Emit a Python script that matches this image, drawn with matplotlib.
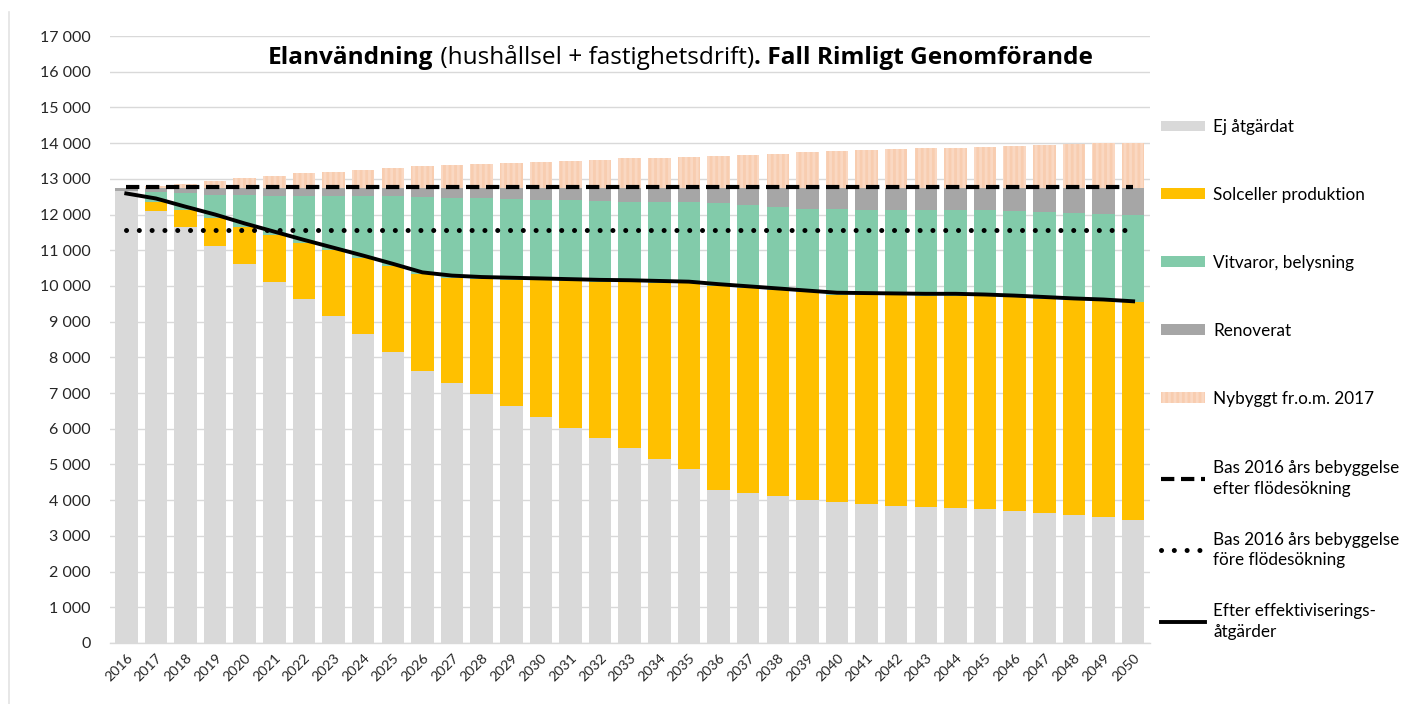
import matplotlib
matplotlib.use("Agg")
import matplotlib.pyplot as plt
import numpy as np
from matplotlib.patches import Patch
from matplotlib.lines import Line2D
from matplotlib.ticker import FuncFormatter, MultipleLocator

plt.rcParams['font.family'] = ['Lato', 'DejaVu Sans']
plt.rcParams['hatch.linewidth'] = 2.0

years = list(range(2016, 2051))

ej_atgardat = [12650, 12110, 11640, 11120, 10610, 10110, 9630, 9150, 8650, 8150,
               7630, 7290, 6970, 6640, 6320, 6030, 5740, 5450, 5140, 4860,
               4290, 4190, 4120, 4000, 3940, 3900, 3850, 3820, 3790, 3750,
               3700, 3630, 3580, 3520, 3450]
solceller = [0, 230, 490, 780, 1030, 1320, 1570, 1850, 2140, 2420,
             2700, 2940, 3230, 3540, 3840, 4110, 4380, 4660, 4950, 5210,
             5710, 5750, 5760, 5820, 5820, 5850, 5890, 5910, 5940, 5960,
             5980, 6010, 6020, 6050, 6090]
vitvaror = [0, 300, 460, 650, 910, 1100, 1330, 1520, 1730, 1940,
            2170, 2230, 2260, 2260, 2250, 2260, 2250, 2250, 2270, 2290,
            2320, 2330, 2340, 2340, 2390, 2380, 2390, 2400, 2400, 2410,
            2420, 2440, 2440, 2450, 2440]
renoverat = [80, 90, 140, 180, 180, 200, 200, 210, 210, 220,
             230, 270, 270, 290, 320, 330, 360, 370, 370, 370,
             410, 460, 510, 570, 580, 600, 600, 600, 600, 610,
             630, 650, 690, 710, 750]
nybyggt = [0, 60, 120, 210, 280, 350, 420, 470, 520, 570,
           620, 650, 680, 720, 750, 780, 810, 840, 860, 890,
           920, 940, 970, 1010, 1060, 1080, 1110, 1130, 1140, 1170,
           1200, 1220, 1240, 1260, 1270]
efter_effektivisering = [12590, 12450, 12220, 12000, 11750, 11520, 11290, 11070, 10850, 10620,
                         10380, 10290, 10250, 10230, 10210, 10190, 10170, 10160, 10140, 10120,
                         10050, 9990, 9930, 9870, 9810, 9800, 9790, 9780, 9780, 9760,
                         9730, 9690, 9650, 9620, 9570]
bas_efter = [12760] * len(years)
bas_fore = [11570] * len(years)

series_labels = ["Ej åtgärdat", "Solceller produktion", "Vitvaror, belysning",
                 "Renoverat", "Nybyggt fr.o.m. 2017"]
line_labels = ["Bas 2016 års bebyggelse\nefter flödesökning",
               "Bas 2016 års bebyggelse\nföre flödesökning",
               "Efter effektiviserings-\nåtgärder"]
title_parts = [("Elanvändning", "bold"), (" (hushållsel + fastighetsdrift)", "normal"),
               (". Fall Rimligt Genomförande", "bold")]

c_ej = "#D9D9D9"
c_sol = "#FFC000"
c_vit = "#82CBAA"
c_ren = "#A6A6A6"
c_ny = "#F8CDB0"
c_ny_hatch = "#FAD8C2"

W, H = 1406, 704
fig = plt.figure(figsize=(W / 100, H / 100), dpi=100)
ax = fig.add_axes([110 / W, (H - 643) / H, (1150 - 110) / W, (643 - 36) / H])

# thin frame line at the left edge of the picture
fig.add_artist(Line2D([9 / W, 9 / W], [0, 1 - 12 / H], transform=fig.transFigure,
                      color="#E3E3E3", lw=1.2))

x = np.arange(len(years))
bw = 0.76
b = np.zeros(len(years))
for vals, col in [(ej_atgardat, c_ej), (solceller, c_sol), (vitvaror, c_vit), (renoverat, c_ren)]:
    ax.bar(x, vals, bw, bottom=b, color=col, linewidth=0, zorder=2)
    b = b + np.array(vals)
ax.bar(x, nybyggt, bw, bottom=b, color=c_ny, edgecolor=c_ny_hatch, linewidth=0,
       hatch="|||", zorder=2)

ax.plot(x, bas_efter, color="black", lw=3.0, linestyle=(0, (3.2, 1.6)), zorder=4)
ax.plot(x, bas_fore, color="black", lw=3.6, linestyle=(0, (0.01, 2.55)),
        dash_capstyle="round", zorder=4)
ax.plot(x, efter_effektivisering, color="black", lw=2.8, zorder=5)

ax.set_xlim(-0.55, 34.57)
ax.set_ylim(0, 17000)
ax.yaxis.set_major_locator(MultipleLocator(1000))
ax.yaxis.set_major_formatter(FuncFormatter(lambda v, p: f"{int(v):,}".replace(",", " ")))
ax.grid(axis="y", color="#D9D9D9", lw=1.0, zorder=0)
ax.set_axisbelow(True)
for s in ["top", "right", "left"]:
    ax.spines[s].set_visible(False)
ax.spines["bottom"].set_color("#D9D9D9")
ax.spines["bottom"].set_linewidth(1.0)
ax.set_xticks(x)
ax.set_xticklabels([str(y) for y in years], rotation=45, ha="right",
                   rotation_mode="anchor", fontsize=10.3)
ax.tick_params(axis="both", length=0, colors="#262626")
ax.tick_params(axis="y", labelsize=11.5, pad=14)
ax.tick_params(axis="x", pad=6)

# Title with mixed weight
fig.canvas.draw()
r = fig.canvas.get_renderer()
xp = 268
for txt, wt in title_parts:
    t = fig.text(xp / W, 1 - 58 / H, txt, fontsize=17.6, fontweight=wt,
                 family=["Open Sans", "DejaVu Sans"],
                 va="center", ha="left", color="black")
    bb = t.get_window_extent(r)
    xp += bb.width

# Legends
patch_handles = [Patch(facecolor=c, edgecolor="none") for c in [c_ej, c_sol, c_vit, c_ren]]
patch_handles.append(Patch(facecolor=c_ny, edgecolor=c_ny_hatch, hatch="|||", linewidth=0))
leg1 = fig.legend(patch_handles, series_labels, loc="upper left",
                  bbox_to_anchor=(1161 / W, 1 - 119 / H), frameon=False,
                  fontsize=12.3, labelspacing=3.04, handlelength=2.6, handleheight=0.6,
                  handletextpad=0.45, borderpad=0, borderaxespad=0)
line_handles = [Line2D([], [], color="black", lw=3.0, linestyle=(0, (3.2, 1.6))),
                Line2D([], [], color="black", lw=3.6, linestyle=(0, (0.01, 2.55)),
                       dash_capstyle="round"),
                Line2D([], [], color="black", lw=2.8)]
leg2 = fig.legend(line_handles, line_labels, loc="upper left",
                  bbox_to_anchor=(1161 / W, 1 - 460 / H), frameon=False,
                  fontsize=12.3, labelspacing=2.05, handlelength=2.6,
                  handletextpad=0.45, borderpad=0, borderaxespad=0)
for t in leg2.get_texts():
    t.set_linespacing(1.35)

fig.savefig("out.png", dpi=100)
